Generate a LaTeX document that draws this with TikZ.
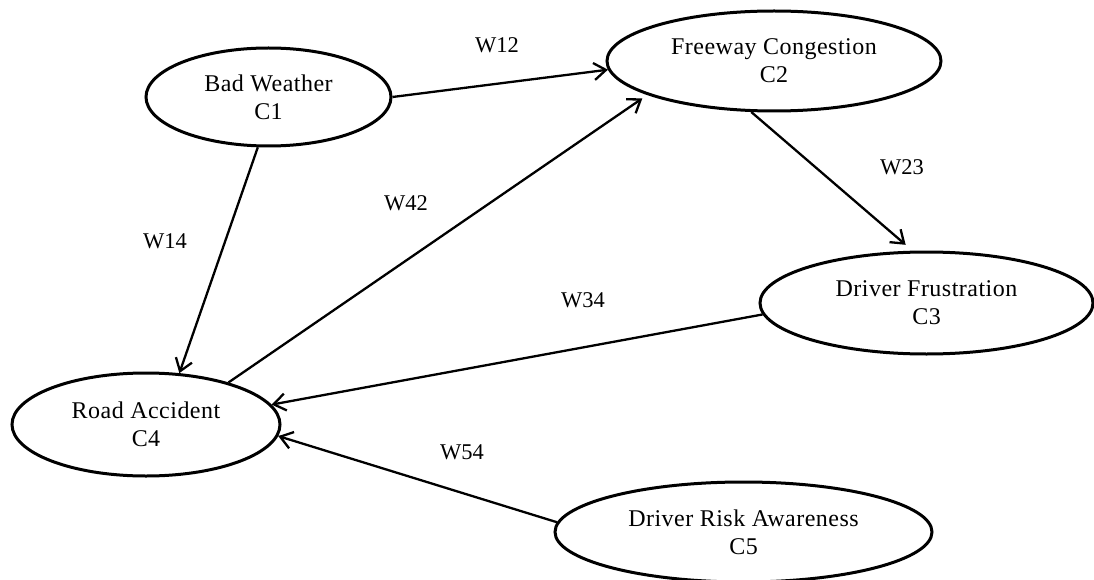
\documentclass[tikz,border=0pt]{standalone}
\usepackage{fontspec}
\setmainfont{Liberation Serif}
\newfontfamily\conceptfont[LetterSpace=2]{Liberation Serif}
\usetikzlibrary{shapes.geometric,arrows.meta}

\tikzset{
  concept/.style={ellipse, draw=black, line width=3pt, inner sep=0pt,
    align=center, font=\conceptfont\fontsize{24}{28}\selectfont},
  weight/.style={inner sep=0pt, font=\fontsize{22.5}{26}\selectfont},
  link/.style={draw=black, line width=2.3pt,
    -{Straight Barb[length=12pt,width=17pt,line width=2.3pt]}}
}

\begin{document}
\begin{tikzpicture}[x=1pt,y=-1pt]
  \useasboundingbox (0,0) rectangle (1094,580);

  % concepts
  \node[concept, minimum width=245pt, minimum height=98pt]  (c1) at (268.5,97)  {Bad Weather\\C1};
  \node[concept, minimum width=334pt, minimum height=100pt] (c2) at (774,61)    {Freeway Congestion\\C2};
  \node[concept, minimum width=333pt, minimum height=102pt] (c3) at (926.5,303) {Driver Frustration\\C3};
  \node[concept, minimum width=268pt, minimum height=103pt] (c4) at (146,424.5) {Road Accident\\C4};
  \node[concept, minimum width=377pt, minimum height=100pt] (c5) at (743.5,532) {Driver Risk Awareness\\C5};

  % causal links
  \draw[link] (c1.0)    -- (c2.183);
  \draw[link, shorten >=9pt] (c2.246) -- (c3.105);
  \draw[link] (c1.-102) -- (c4.57);
  \draw[link, shorten >=6pt] (c4.27) -- (c2.195);
  \draw[link] (c3.184)  -- (c4.9);
  \draw[link] (c5.177)  -- (c4.-5);

  % link weights
  \node[weight] (w12) at (497,45)  {W12};
  \node[weight] (w23) at (902,167) {W23};
  \node[weight] (w42) at (406,203) {W42};
  \node[weight] (w14) at (165,241) {W14};
  \node[weight] (w34) at (583,300) {W34};
  \node[weight] (w54) at (462,452) {W54};
\end{tikzpicture}
\end{document}
